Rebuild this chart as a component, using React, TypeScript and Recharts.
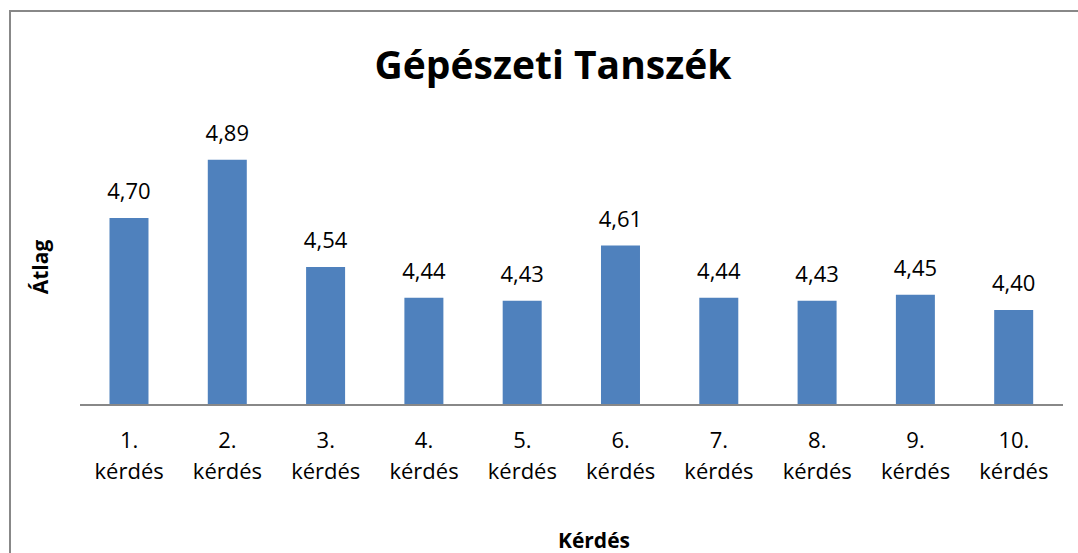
import React from "react";
import { BarChart, Bar, XAxis, YAxis, LabelList } from "recharts";

const categories = ["1. kérdés", "2. kérdés", "3. kérdés", "4. kérdés", "5. kérdés", "6. kérdés", "7. kérdés", "8. kérdés", "9. kérdés", "10. kérdés"];
const averages = [4.70, 4.89, 4.54, 4.44, 4.43, 4.61, 4.44, 4.43, 4.45, 4.40];
const yDomain: [number, number] = [4.09, 5.0];

const data = categories.map((c, i) => ({ name: c, value: averages[i] }));

const FONT = "'Open Sans', 'Liberation Sans', sans-serif";

const Tick = (props: any) => {
  const { x, y, payload } = props;
  const parts = String(payload.value).split(" ");
  return (
    <g>
      <text x={x} y={y} dy={35} textAnchor="middle" fontFamily={FONT} fontSize={22} fill="#000">
        {parts[0]}
      </text>
      <text x={x} y={y} dy={66} textAnchor="middle" fontFamily={FONT} fontSize={22} fill="#000">
        {parts[1]}
      </text>
    </g>
  );
};

export default function App() {
  return (
    <div style={{ position: "absolute", left: 0, top: 0, width: 1078, height: 553, overflow: "hidden", background: "#fff" }}>
      <div style={{ position: "absolute", left: 9, top: 10, width: 1100, height: 600, border: "2px solid #888", boxSizing: "border-box" }} />
      <div style={{ position: "absolute", left: 0, top: 0 }}>
        <BarChart width={1078} height={553} data={data} margin={{ top: 126, right: 15, bottom: 118, left: 80 }} barCategoryGap="30%">
          <text x={553} y={79} textAnchor="middle" fontFamily={FONT} fontWeight="bold" fontSize={39} fill="#000">Gépészeti Tanszék</text>
          <text x={48} y={267} transform="rotate(-90 48 267)" textAnchor="middle" fontFamily={FONT} fontWeight="bold" fontSize={21} fill="#000">Átlag</text>
          <text x={594} y={548} textAnchor="middle" fontFamily={FONT} fontWeight="bold" fontSize={21} fill="#000">Kérdés</text>
          <XAxis dataKey="name" axisLine={{ stroke: "#888", strokeWidth: 2 }} tickLine={false} tick={<Tick />} interval={0} />
          <YAxis hide domain={yDomain} allowDataOverflow />
          <Bar dataKey="value" fill="#4F81BD" isAnimationActive={false}>
            <LabelList dataKey="value" position="top" offset={19} formatter={(v: any) => Number(v).toFixed(2).replace(".", ",")} style={{ fontFamily: FONT, fontSize: 22, fill: "#000" }} />
          </Bar>
        </BarChart>
      </div>
    </div>
  );
}
